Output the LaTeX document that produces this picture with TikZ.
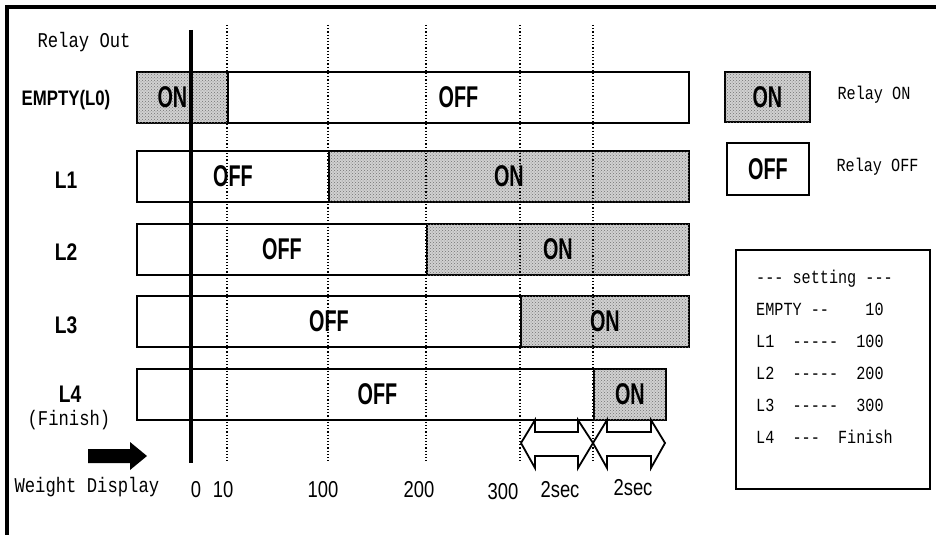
\documentclass[tikz,border=0pt]{standalone}
\usepackage{fontspec}
\setmainfont{Liberation Sans}
\setmonofont{Liberation Mono}
\newfontfamily\bigcond[FakeStretch=0.66,UprightFont=* Bold]{Liberation Sans}
\newfontfamily\cond[FakeStretch=0.8,UprightFont=* Bold]{Liberation Sans}
\newfontfamily\numcond[FakeStretch=0.8]{Liberation Sans}
\newfontfamily\tallmono[FakeStretch=0.82]{Liberation Mono}
\usetikzlibrary{patterns}
\tikzset{
  seg-off/.style={draw,rectangle,line width=1.8pt,fill=white,minimum height=51pt,inner sep=0pt,anchor=west,font=\bigcond\fontsize{30}{30}\selectfont},
  seg-on/.style={seg-off,fill=black!18,postaction={pattern=crosshatch dots,pattern color=black!55}},
  lbl-row/.style={font=\cond\fontsize{24}{24}\selectfont},
  lbl-mono/.style={font=\tallmono\fontsize{21}{21}\selectfont},
  lbl-small/.style={font=\tallmono\fontsize{18.5}{18.5}\selectfont},
  lbl-num/.style={font=\numcond\fontsize{23}{23}\selectfont},
  timeline/.style={line width=4pt},
  tick-line/.style={dotted,line width=1.2pt},
  sec-arrow/.style={draw,line width=1.8pt,line join=miter},
  frame/.style={line width=4pt},
}

\begin{document}
\begin{tikzpicture}[x=1pt,y=-1pt]
  \useasboundingbox (0,0) rectangle (936,535);

  \draw[frame] (5,7) -- (936,7);
  \draw[frame] (7,5) -- (7,535);

  \node[lbl-mono,anchor=west] (title) at (34,42) {Relay Out};

  % ROW 0: EMPTY
  \node[lbl-row,font=\cond\fontsize{21}{21}\selectfont] (r0) at (66,100) {EMPTY(L0)};
  \node[seg-on,minimum width=91pt]  (r0on)  at (136,97.5) {ON\hspace*{20pt}};
  \node[seg-off,minimum width=461pt] (r0off) at (227,97.5) {OFF};

  % ROW 1: L1
  \node[lbl-row] (r1) at (66,180) {L1};
  \node[seg-off,minimum width=192pt] (r1off) at (136,176.5) {OFF};
  \node[seg-on,minimum width=360pt]  (r1on)  at (328,176.5) {ON};

  % ROW 2: L2
  \node[lbl-row] (r2) at (66,252) {L2};
  \node[seg-off,minimum width=290pt] (r2off) at (136,249.5) {OFF};
  \node[seg-on,minimum width=262pt]  (r2on)  at (426,249.5) {ON};

  % ROW 3: L3
  \node[lbl-row] (r3) at (66,325) {L3};
  \node[seg-off,minimum width=384pt] (r3off) at (136,321.5) {OFF};
  \node[seg-on,minimum width=168pt]  (r3on)  at (520,321.5) {ON};

  % ROW 4: L4 (finish)
  \node[lbl-row] (r4) at (70,394) {L4};
  \node[lbl-mono] (r4fin) at (69,420) {(Finish)};
  \node[seg-off,minimum width=481pt] (r4off) at (136,394.5) {OFF};
  \node[seg-on,minimum width=72pt]   (r4on)  at (593,394.5) {ON};

  % weight marks
  \draw[timeline]  (191,30) -- (191,463);
  \draw[tick-line] (227,25) -- (227,463);
  \draw[tick-line] (328,25) -- (328,463);
  \draw[tick-line] (426,25) -- (426,463);
  \draw[tick-line] (520,25) -- (520,463);
  \draw[tick-line] (593,25) -- (593,463);

  % 2sec spans
  \draw[sec-arrow] (521,443) -- (535,420) -- (535,432) -- (578,432) -- (578,420) -- (593,443)
                   -- (578,468) -- (578,456) -- (535,456) -- (535,468) -- cycle;
  \draw[sec-arrow] (593,443) -- (607,420) -- (607,432) -- (651,432) -- (651,420) -- (665,443)
                   -- (651,468) -- (651,456) -- (607,456) -- (607,468) -- cycle;

  % weight axis
  \fill (88,449) -- (130,449) -- (130,442) -- (147,456) -- (130,470) -- (130,463) -- (88,463) -- cycle;
  \node[lbl-mono,anchor=west] (wd) at (11,487) {Weight Display};
  \node[lbl-num] (w0)   at (196,490) {0};
  \node[lbl-num] (w10)  at (223,490) {10};
  \node[lbl-num] (w100) at (323,490) {100};
  \node[lbl-num] (w200) at (419,490) {200};
  \node[lbl-num] (w300) at (503,492) {300};
  \node[lbl-num] (s1)   at (560,490) {2sec};
  \node[lbl-num] (s2)   at (633,488) {2sec};

  % legend
  \node[seg-on,minimum width=85pt,minimum height=50pt]  (keyon)  at (724,97) {ON};
  \node[seg-off,minimum width=82pt,minimum height=52pt] (keyoff) at (726,169) {OFF};
  \node[lbl-small,anchor=west] (keyontxt)  at (834,95)  {Relay ON};
  \node[lbl-small,anchor=west] (keyofftxt) at (833,167) {Relay OFF};

  % settings
  \node[draw,line width=2pt,minimum width=194pt,minimum height=239pt,anchor=north west] (setbox) at (735,249) {};
  \node[font=\tallmono\fontsize{18.5}{32}\selectfont,align=left,anchor=north west,inner sep=0pt] (setlist) at (756,270)
    {-{}-{}-~setting~-{}-{}-\\
     EMPTY~-{}-~~~~10\\
     L1~~-{}-{}-{}-{}-~~100\\
     L2~~-{}-{}-{}-{}-~~200\\
     L3~~-{}-{}-{}-{}-~~300\\
     L4~~-{}-{}-~~Finish};

\end{tikzpicture}
\end{document}
